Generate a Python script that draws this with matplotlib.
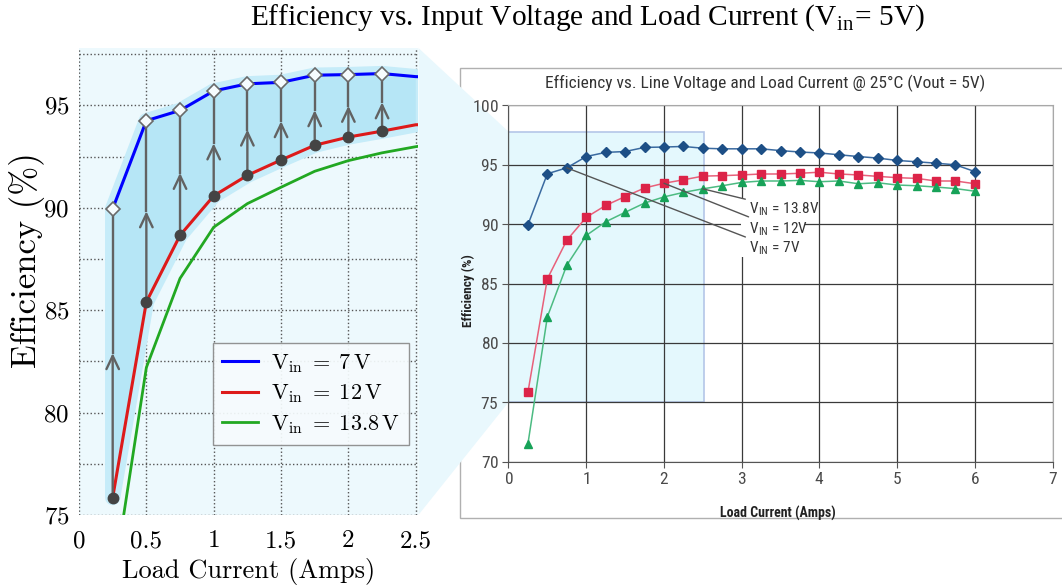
import numpy as np
import matplotlib.pyplot as plt
from matplotlib import font_manager
from matplotlib.patches import Rectangle, Polygon
from matplotlib.ticker import MultipleLocator, FuncFormatter

# efficiency (%) against load current (A) for three input voltages
load_current = [0.25, 0.5, 0.75, 1.0, 1.25, 1.5, 1.75, 2.0, 2.25, 2.5, 2.75, 3.0,
                3.25, 3.5, 3.75, 4.0, 4.25, 4.5, 4.75, 5.0, 5.25, 5.5, 5.75, 6.0]
eff_7v = [89.95, 94.25, 94.75, 95.7, 96.05, 96.12, 96.47, 96.5, 96.55, 96.4, 96.35, 96.35,
          96.35, 96.2, 96.08, 96.0, 95.85, 95.7, 95.57, 95.37, 95.26, 95.14, 95.0, 94.43]
eff_12v = [75.85, 85.4, 88.65, 90.58, 91.58, 92.33, 93.05, 93.45, 93.74, 94.05, 94.09, 94.15,
           94.23, 94.23, 94.29, 94.38, 94.23, 94.15, 94.03, 93.92, 93.86, 93.64, 93.64, 93.41]
eff_13v8 = [71.5, 82.2, 86.55, 89.05, 90.2, 91.0, 91.78, 92.3, 92.68, 92.98, 93.24, 93.52,
            93.64, 93.64, 93.69, 93.58, 93.64, 93.41, 93.49, 93.3, 93.24, 93.13, 93.0, 92.78]

vin_names = ['7', '12', '13.8']
left_xticks = [0, 0.5, 1, 1.5, 2, 2.5]
left_yticks = [75, 80, 85, 90, 95]
right_xticks = [0, 1, 2, 3, 4, 5, 6, 7]
right_yticks = [70, 75, 80, 85, 90, 95, 100]

# zoomed window (shared by both panels)
zoom_x = (0, 2.52)
zoom_y = (75, 97.8)

x = np.array(load_current)
n_zoom = int(np.sum(x <= 2.5))      # points inside the zoom window
n_arrow = n_zoom - 1                # arrows from 0.25 to 2.25 A

plt.rcParams['font.family'] = 'cmr10'
plt.rcParams['mathtext.fontset'] = 'cm'
plt.rcParams['axes.formatter.use_mathtext'] = True

# condensed sans for the datasheet style panel
names = {f.name for f in font_manager.fontManager.ttflist}
narrow = next((n for n in ['Liberation Sans Narrow', 'Roboto Condensed',
                           'Open Sans Condensed', 'Liberation Sans'] if n in names), 'DejaVu Sans')

fig = plt.figure(figsize=(10.62, 5.87), dpi=100)

# ---------------- left panel: zoomed view ----------------
ax1 = fig.add_axes([0.0744, 0.1227, 0.3196, 0.7956])
ax1.set_xlim(*zoom_x)
ax1.set_ylim(*zoom_y)
ax1.set_facecolor('#edf9fd')
for s in ax1.spines.values():
    s.set_visible(False)

ax1.set_xticks(left_xticks)
ax1.set_yticks(left_yticks)
ax1.yaxis.set_minor_locator(MultipleLocator(2.5))
ax1.xaxis.set_major_formatter(FuncFormatter(lambda v, p: '%g' % v))
ax1.grid(which='both', ls=':', color='#555555', lw=1.0, zorder=0.5)
ax1.set_axisbelow(True)
ax1.tick_params(which='both', length=0, labelsize=18)
ax1.tick_params(axis='x', pad=11)
ax1.tick_params(axis='y', pad=7)

# band between 12 V and 7 V curves with soft halo
band = list(zip(x[:n_zoom], np.array(eff_7v[:n_zoom]))) + \
    list(zip(x[:n_zoom][::-1], np.array(eff_12v[:n_zoom])[::-1]))
ax1.add_patch(Polygon(band, closed=True, fc='#c6ecf9', ec='#c6ecf9', lw=11,
                      joinstyle='round', zorder=1))
ax1.add_patch(Polygon(band, closed=True, fc='#b6e6f6', ec='none', zorder=1.1))

l7, = ax1.plot(x, eff_7v, color='#0000ff', lw=2.2, zorder=3)
l12, = ax1.plot(x, eff_12v, color='#dd1a1a', lw=2.2, zorder=3)
l138, = ax1.plot(x, eff_13v8, color='#22a822', lw=2.0, zorder=3)

for i in range(n_arrow):
    lo, hi = eff_12v[i], eff_7v[i]
    mid = (lo + hi) / 2
    ax1.annotate('', xy=(x[i], mid), xytext=(x[i], lo),
                 arrowprops=dict(arrowstyle='->,head_length=0.95,head_width=0.45',
                                 color='#626262', lw=1.7, shrinkA=0, shrinkB=0,
                                 mutation_scale=10),
                 zorder=4)
    ax1.plot([x[i], x[i]], [mid, hi], color='#626262', lw=1.7, zorder=4)

ax1.plot(x[:n_arrow], eff_7v[:n_arrow], ls='none', marker='D', ms=7.5,
         mfc='#f6fcfe', mec='#6a6a6a', mew=1.2, zorder=5)
ax1.plot(x[:n_arrow], eff_12v[:n_arrow], ls='none', marker='o', ms=7.5,
         color='#444444', zorder=5)

ax1.legend([l7, l12, l138],
           [r'$\mathrm{V_{in}}\;=\;%s\,\mathrm{V}$' % v for v in vin_names],
           loc='lower right', bbox_to_anchor=(0.972, 0.15), borderaxespad=0,
           fontsize=16, fancybox=False, edgecolor='#8a8a8a', facecolor='#f6fbfd',
           framealpha=0.92, handlelength=1.6, borderpad=0.4, labelspacing=0.35,
           handletextpad=0.6)

ax1.set_xlabel('Load Current (Amps)', fontsize=19, labelpad=4)
ax1.set_ylabel('Efficiency (%)', fontsize=25)
ax1.yaxis.set_label_coords(-0.1, 0.545)

fig.text(0.553, 0.970,
         r'Efficiency vs. Input Voltage and Load Current (V$_{\mathregular{in}}$= 5V)',
         family='Liberation Serif', fontsize=21.2, ha='center', va='center')

# ---------------- right panel: full datasheet curve ----------------
ax2 = fig.add_axes([0.4788, 0.2135, 0.5124, 0.6068])
ax2.set_xlim(0, 7)
ax2.set_ylim(70, 100)
ax2.set_facecolor('white')
ax2.set_xticks(right_xticks)
ax2.set_yticks(right_yticks)
ax2.grid(color='#3a3a3a', lw=0.9)
ax2.set_axisbelow(True)
ax2.tick_params(direction='out', length=4, color='#555555', labelcolor='#4a4a4a',
                labelsize=12.5, pad=3)
for lab in ax2.get_xticklabels() + ax2.get_yticklabels():
    lab.set_family(narrow)
ax2.spines['left'].set_color('#555555')
ax2.spines['bottom'].set_color('#555555')
ax2.spines['top'].set_color('#a8a8a8')
ax2.spines['right'].set_color('#a8a8a8')

ax2.add_patch(Rectangle((zoom_x[0], zoom_y[0]), zoom_x[1] - zoom_x[0], zoom_y[1] - zoom_y[0],
                        fc='#e4f8fd', ec='#b4c6e8', lw=1.2, zorder=0.3))

ax2.plot(x, eff_7v, color='#3a6aa0', lw=1.1, marker='D', ms=4.8,
         mfc='#1d4f86', mec='#1d4f86', zorder=3)
ax2.plot(x, eff_12v, color='#e8607a', lw=1.1, marker='s', ms=5.2,
         mfc='#dc2448', mec='#dc2448', zorder=3)
ax2.plot(x, eff_13v8, color='#4cbb82', lw=1.1, marker='^', ms=6,
         mfc='#17a258', mec='#17a258', zorder=3)

# callouts naming each curve
ax2.add_patch(Rectangle((2.99, 87.2), 0.82, 4.9, fc='white', ec='none', zorder=0.6))
series = [eff_13v8, eff_12v, eff_7v]
idx = [9, 7, 2]
label_y = [91.3, 89.6, 87.95]
for ser, i, ly, v in zip(series, idx, label_y, ['13.8', '12', '7']):
    ax2.annotate(r'V$_{\mathregular{IN}}$ = %sV' % v, xy=(x[i], ser[i]), xytext=(3.1, ly),
                 family=narrow, fontsize=11, color='#333333', va='center', ha='left',
                 arrowprops=dict(arrowstyle='-', color='#555555', lw=1.0,
                                 shrinkA=1, shrinkB=0),
                 zorder=4)

ax2.set_xlabel('Load Current (Amps)', family=narrow, fontsize=10, fontweight='bold',
               color='#222222')
ax2.xaxis.set_label_coords(0.495, -0.125)
ax2.set_ylabel('Efficiency (%)', family=narrow, fontsize=9.5, fontweight='bold',
               color='#222222')
ax2.yaxis.set_label_coords(-0.062, 0.48)

fig.text(0.7203, 0.8586,
         'Efficiency vs. Line Voltage and Load Current @ 25\u00b0C (Vout = 5V)',
         family=narrow, fontsize=12.5, color='#333333', ha='center', va='center')

# panel frame and the zoom connector, both behind the axes
inv = fig.transFigure.inverted()
fr0 = inv.transform((460, 587 - 518))
fr1 = inv.transform((1070, 587 - 68))
fig.add_artist(Rectangle(fr0, fr1[0] - fr0[0], fr1[1] - fr0[1], transform=fig.transFigure,
                         fc='white', ec='#b0b0b0', lw=1.0, zorder=-2))

corners = [ax1.transAxes.transform((1, 1)),
           ax2.transData.transform((zoom_x[0], zoom_y[1])),
           ax2.transData.transform((zoom_x[0], zoom_y[0])),
           ax1.transAxes.transform((1, 0))]
fig.add_artist(Polygon(inv.transform(corners), closed=True, transform=fig.transFigure,
                       fc='#e9f8fd', ec='none', zorder=-1))

fig.savefig('out.png', dpi=100)
